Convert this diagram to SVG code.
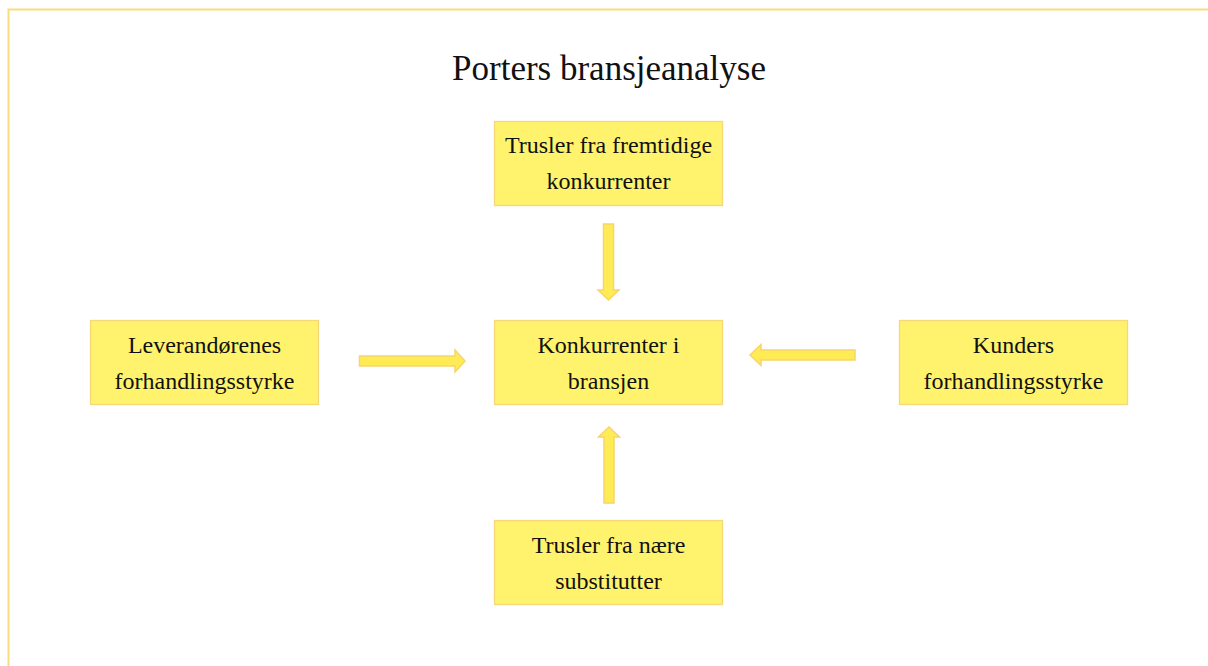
<svg xmlns="http://www.w3.org/2000/svg" width="1208" height="666" viewBox="0 0 1208 666">
<style>
.box{fill:#fff36d;stroke:#f6d878;stroke-width:1.3}
.t{font-family:"Liberation Serif","Times New Roman",serif;font-size:24px;fill:#111;text-anchor:middle}
.arr{fill:#ffec55;stroke:#f9d46c;stroke-width:1.5;stroke-linejoin:miter}
</style>
<rect x="0" y="0" width="1208" height="666" fill="#fff"/>
<rect x="8.5" y="9.5" width="1300" height="700" fill="none" stroke="#f9dc80" stroke-width="2"/>
<text x="609" y="80" font-family="'Liberation Serif','Times New Roman',serif" font-size="35" fill="#111" text-anchor="middle">Porters bransjeanalyse</text>
<g id="node-top">
<rect class="box" x="494.5" y="121.5" width="228" height="84"/>
<text class="t" x="608.5" y="153">Trusler fra fremtidige</text>
<text class="t" x="608.5" y="189">konkurrenter</text>
</g>
<g id="node-center">
<rect class="box" x="494.5" y="320.5" width="228" height="84"/>
<text class="t" x="608.5" y="353">Konkurrenter i</text>
<text class="t" x="608.5" y="389">bransjen</text>
</g>
<g id="node-left">
<rect class="box" x="90.5" y="320.5" width="228" height="84"/>
<text class="t" x="204.5" y="353">Leverandørenes</text>
<text class="t" x="204.5" y="389">forhandlingsstyrke</text>
</g>
<g id="node-right">
<rect class="box" x="899.5" y="320.5" width="228" height="84"/>
<text class="t" x="1013.5" y="353">Kunders</text>
<text class="t" x="1013.5" y="389">forhandlingsstyrke</text>
</g>
<g id="node-bottom">
<rect class="box" x="494.5" y="520.5" width="228" height="84"/>
<text class="t" x="608.5" y="553">Trusler fra nære</text>
<text class="t" x="608.5" y="589">substitutter</text>
</g>
<g id="connectors">
<path class="arr" d="M603.5 224 H613.5 V290 H619 L608.5 300 L598 290 H603.5 Z"/>
<path class="arr" d="M604 503 H614 V437 H619.5 L609 427 L598.5 437 H604 Z"/>
<path class="arr" d="M359.5 356 H455 V350 L465 361 L455 372 V366 H359.5 Z"/>
<path class="arr" d="M855 350 H761 V344.5 L750 355 L761 365.5 V360 H855 Z"/>
</g>
</svg>
